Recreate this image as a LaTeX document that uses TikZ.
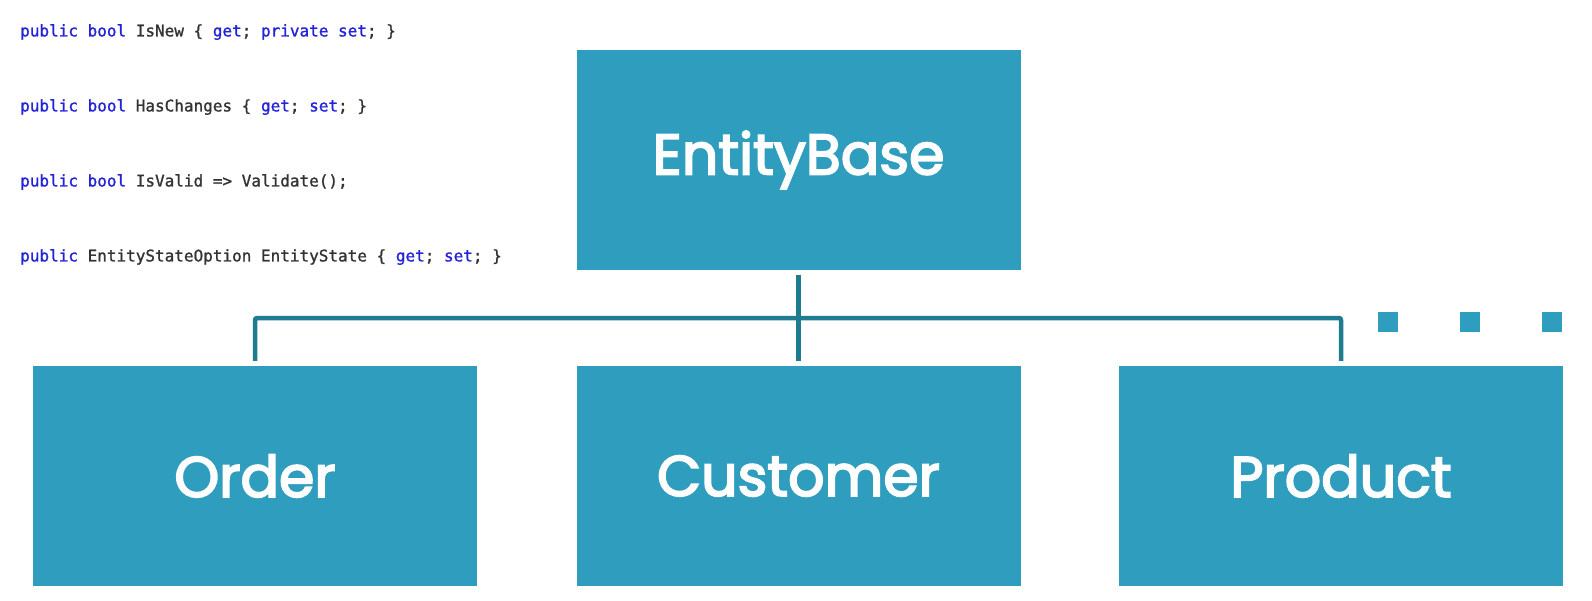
\documentclass[tikz,border=0pt]{standalone}
\usepackage{fontspec}
\newfontfamily\lblfont{Poppins}[FakeBold=3.2]
\newfontfamily\codefont{DejaVu Sans Mono}[FakeBold=1.2]
\definecolor{boxblue}{HTML}{2E9DBE}
\definecolor{connteal}{HTML}{1F7B8F}
\definecolor{kwblue}{HTML}{2323D8}
\definecolor{codegray}{HTML}{333333}
\newcommand{\kw}[1]{\textcolor{kwblue}{#1}}
\tikzset{
  entbox/.style={rectangle, fill=boxblue, draw=none, minimum width=444pt, minimum height=220pt,
    inner sep=0pt, text=white, font=\lblfont\fontsize{57}{60}\selectfont},
  conn/.style={draw=connteal, line width=4.5pt, line join=round, line cap=butt},
  codeline/.style={anchor=west, inner sep=0pt, text=codegray, font=\codefont\fontsize{16}{18}\selectfont},
  dotsq/.style={rectangle, fill=boxblue, draw=none, minimum size=20pt, inner sep=0pt}
}
\begin{document}
\begin{tikzpicture}[x=1pt,y=-1pt]
\useasboundingbox (0,0) rectangle (1592,600);
\fill[white] (0,0) rectangle (1592,600);
% boxes
\node[entbox] (eb) at (798.5,160) {EntityBase};
\node[entbox] (order) at (255,476) {Order};
\node[entbox] (cust) at (798.5,476) {Customer};
\node[entbox] (prod) at (1341,476) {Product};
% connectors
\coordinate (bar) at (798.5,318);
\draw[conn, shorten <=5pt, shorten >=5pt] (eb) -- (cust);
\draw[conn, rounded corners=2pt, shorten <=5pt, shorten >=5pt] (order.north) |- (bar) -| (prod.north);
% ellipsis squares
\node[dotsq] (d1) at (1388,322) {};
\node[dotsq] (d2) at (1470,322) {};
\node[dotsq] (d3) at (1552,322) {};
% code
\node[codeline] (c1) at (20,32) {\kw{public} \kw{bool} IsNew \{ \kw{get}; \kw{private} \kw{set}; \}};
\node[codeline] (c2) at (20,107) {\kw{public} \kw{bool} HasChanges \{ \kw{get}; \kw{set}; \}};
\node[codeline] (c3) at (20,182) {\kw{public} \kw{bool} IsValid => Validate();};
\node[codeline] (c4) at (20,257) {\kw{public} EntityStateOption EntityState \{ \kw{get}; \kw{set}; \}};
\end{tikzpicture}
\end{document}
